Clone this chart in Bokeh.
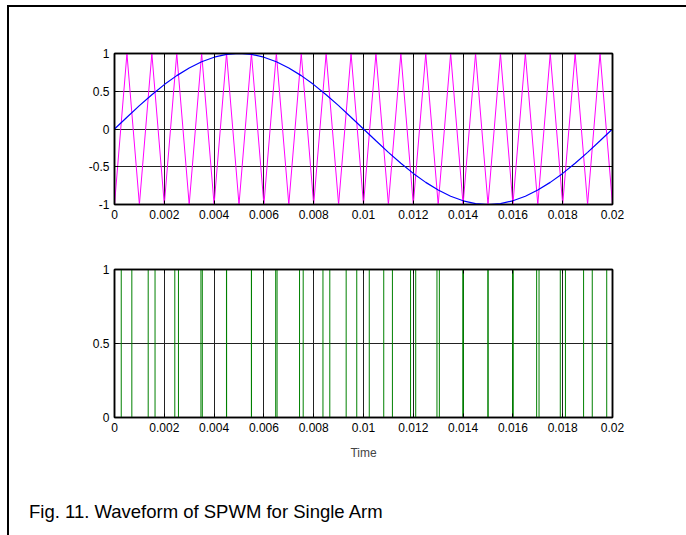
from bokeh.plotting import figure
from bokeh.layouts import column
from bokeh.models import FixedTicker, LinearAxis, Div, Range1d
from bokeh.embed import file_html
from bokeh.resources import INLINE

# ---------------- data ----------------
x_ticks = [0, 0.002, 0.004, 0.006, 0.008, 0.01, 0.012, 0.014, 0.016, 0.018, 0.02]
x_tick_labels = ["0", "0.002", "0.004", "0.006", "0.008", "0.01", "0.012", "0.014", "0.016", "0.018", "0.02"]
y1_ticks = [-1, -0.5, 0, 0.5, 1]
y1_tick_labels = ["-1", "-0.5", "0", "0.5", "1"]
y2_ticks = [0, 0.5, 1]
y2_tick_labels = ["0", "0.5", "1"]

# sine reference (sampled every 0.5 ms)
sine_t = [0.0, 0.0005, 0.001, 0.0015, 0.002, 0.0025, 0.003, 0.0035, 0.004, 0.0045,
          0.005, 0.0055, 0.006, 0.0065, 0.007, 0.0075, 0.008, 0.0085, 0.009, 0.0095,
          0.01, 0.0105, 0.011, 0.0115, 0.012, 0.0125, 0.013, 0.0135, 0.014, 0.0145,
          0.015, 0.0155, 0.016, 0.0165, 0.017, 0.0175, 0.018, 0.0185, 0.019, 0.0195, 0.02]
sine_v = [0.0, 0.156, 0.309, 0.454, 0.588, 0.707, 0.809, 0.891, 0.951, 0.988,
          1.0, 0.988, 0.951, 0.891, 0.809, 0.707, 0.588, 0.454, 0.309, 0.156,
          0.0, -0.156, -0.309, -0.454, -0.588, -0.707, -0.809, -0.891, -0.951, -0.988,
          -1.0, -0.988, -0.951, -0.891, -0.809, -0.707, -0.588, -0.454, -0.309, -0.156, 0.0]

# triangular carrier vertices
carrier_t = [0.0, 0.0005, 0.001, 0.0015, 0.002, 0.0025, 0.003, 0.0035, 0.004, 0.0045,
             0.005, 0.0055, 0.006, 0.0065, 0.007, 0.0075, 0.008, 0.0085, 0.009, 0.0095,
             0.01, 0.0105, 0.011, 0.0115, 0.012, 0.0125, 0.013, 0.0135, 0.014, 0.0145,
             0.015, 0.0155, 0.016, 0.0165, 0.017, 0.0175, 0.018, 0.0185, 0.019, 0.0195, 0.02]
carrier_v = [-1, 1, -1, 1, -1, 1, -1, 1, -1, 1,
             -1, 1, -1, 1, -1, 1, -1, 1, -1, 1,
             -1, 1, -1, 1, -1, 1, -1, 1, -1, 1,
             -1, 1, -1, 1, -1, 1, -1, 1, -1, 1, -1]

# gate pulse switching instants and levels (level holds after each instant)
pwm_t = [0.0, 0.000271, 0.000696, 0.001353, 0.001628, 0.002422, 0.002569, 0.003472, 0.003526,
         0.004497, 0.004503, 0.005497, 0.005503, 0.006474, 0.006528, 0.007431, 0.007578,
         0.008372, 0.008647, 0.009304, 0.009729, 0.010232, 0.010813, 0.011161, 0.01189,
         0.012097, 0.01295, 0.013046, 0.013988, 0.014012, 0.015, 0.015, 0.015988, 0.016013,
         0.016954, 0.01705, 0.017903, 0.01811, 0.018839, 0.019187, 0.019768, 0.02]
pwm_v = [1, 0, 1, 0, 1, 0, 1, 0, 1,
         0, 1, 0, 1, 0, 1, 0, 1,
         0, 1, 0, 1, 0, 1, 0, 1,
         0, 1, 0, 1, 0, 1, 0, 1, 0,
         1, 0, 1, 0, 1, 0, 1, 1]

caption = "Fig. 11. Waveform of SPWM for Single Arm"
x_label = "Time"

# ---------------- styling helpers ----------------
TICK_FONT = "Liberation Sans Narrow, Arial Narrow, Liberation Sans, sans-serif"
TICK_SIZE = "12px"
FRAME = "2px solid black"


def style_fig(p, yticks, ylabels):
    xax = p.below[0]
    yax = p.left[0]
    xax.ticker = FixedTicker(ticks=x_ticks)
    xax.major_label_overrides = {t: l for t, l in zip(x_ticks, x_tick_labels)}
    yax.ticker = FixedTicker(ticks=yticks)
    yax.major_label_overrides = {t: l for t, l in zip(yticks, ylabels)}
    for ax in (xax, yax):
        ax.major_tick_in = 4
        ax.major_tick_out = 0
        ax.minor_tick_line_color = None
        ax.axis_line_color = "black"
        ax.axis_line_width = 1.5
        ax.major_tick_line_color = "black"
        ax.major_label_text_font = TICK_FONT
        ax.major_label_text_font_size = TICK_SIZE
        ax.major_label_text_color = "black"
        ax.major_label_standoff = 5
    # box ticks on top and right
    top = LinearAxis(ticker=FixedTicker(ticks=x_ticks), major_label_text_color=None,
                     major_tick_in=4, major_tick_out=0, minor_tick_line_color=None,
                     axis_line_color="black", axis_line_width=1.5)
    right = LinearAxis(ticker=FixedTicker(ticks=yticks), major_label_text_color=None,
                       major_tick_in=4, major_tick_out=0, minor_tick_line_color=None,
                       axis_line_color="black", axis_line_width=1.5)
    p.add_layout(top, "above")
    p.add_layout(right, "right")
    p.xgrid.grid_line_color = "#222222"
    p.ygrid.grid_line_color = "#222222"
    p.xgrid.grid_line_width = 1
    p.ygrid.grid_line_width = 1
    p.outline_line_color = "black"
    p.outline_line_width = 1.5
    p.background_fill_color = "white"
    p.border_fill_color = "white"
    return xax


# ---------------- top plot ----------------
p1 = figure(frame_width=496, frame_height=149, output_backend="svg", toolbar_location=None,
            x_range=Range1d(0, 0.02), y_range=Range1d(-1, 1),
            min_border_left=105, min_border_right=76, min_border_top=46, min_border_bottom=33,
            styles={"border-left": FRAME, "border-top": FRAME})
style_fig(p1, y1_ticks, y1_tick_labels)
p1.line(carrier_t, carrier_v, line_color="#FF00FF", line_width=1)
p1.line(sine_t, sine_v, line_color="#0000FF", line_width=1.2)

# ---------------- bottom plot ----------------
p2 = figure(frame_width=496, frame_height=148, output_backend="svg", toolbar_location=None,
            x_range=Range1d(0, 0.02), y_range=Range1d(0, 1),
            min_border_left=105, min_border_right=76, min_border_top=34, min_border_bottom=52,
            styles={"border-left": FRAME})
xax2 = style_fig(p2, y2_ticks, y2_tick_labels)
p2.step(pwm_t, pwm_v, mode="after", line_color="#008000", line_width=1)
xax2.axis_label = x_label
xax2.axis_label_text_font = TICK_FONT
xax2.axis_label_text_font_size = TICK_SIZE
xax2.axis_label_text_font_style = "normal"
xax2.axis_label_standoff = 11

cap = Div(text=caption, width=679, height=70, margin=0,
          styles={"font-family": "Liberation Sans, Arial, sans-serif", "font-size": "18.5px",
                  "color": "black", "padding-left": "20px", "padding-top": "30px",
                  "border-left": FRAME, "box-sizing": "border-box"})

layout = column(p1, p2, cap, margin=(5, 0, 0, 7))

open("out.html", "w").write(file_html(layout, INLINE))
